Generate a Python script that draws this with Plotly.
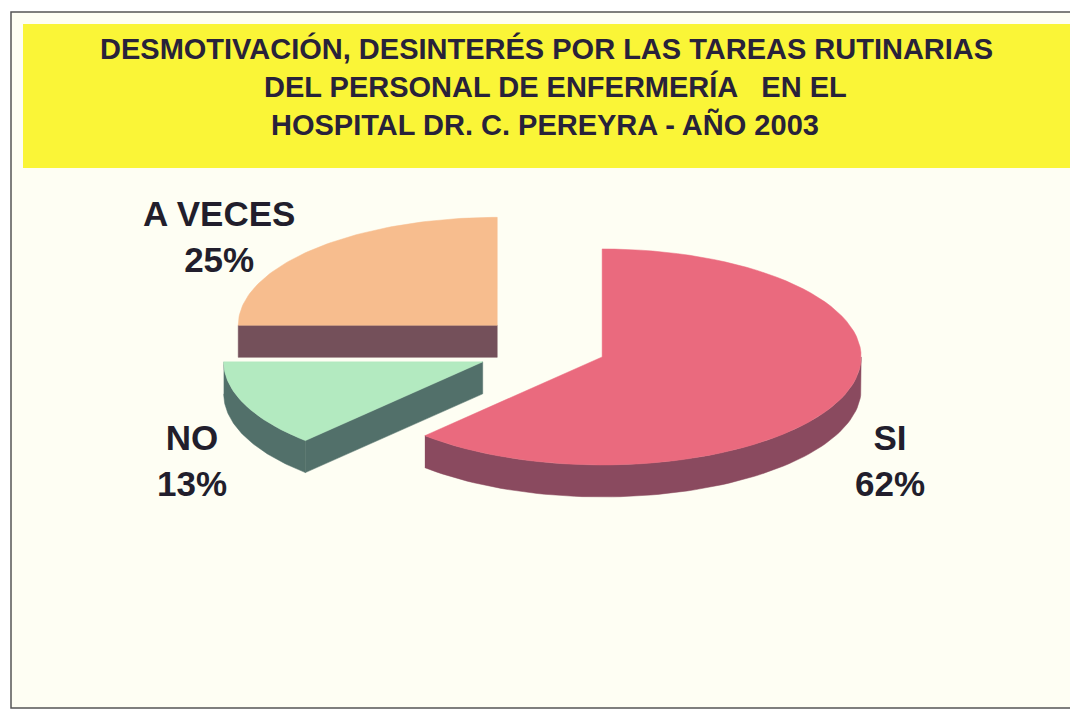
import numpy as np
import plotly.graph_objects as go

# ---- data ----
categories = ["A VECES", "NO", "SI"]
values = [25, 13, 62]

title_lines = [
    "DESMOTIVACIÓN, DESINTERÉS POR LAS TAREAS RUTINARIAS",
    "DEL PERSONAL DE ENFERMERÍA   EN EL",
    "HOSPITAL DR. C. PEREYRA - AÑO 2003",
]

# ---- style ----
top_colors = ["#f7bd8e", "#b3eac0", "#ea6a7e"]
side_colors = ["#74505a", "#52706a", "#8a4a5f"]
pulls = [0.31, 0.30, 0.20]
label_pos = [(219, 236), (192, 460), (890, 460)]

W, H = 1070, 711
CX, CY, RX, RY, T = 554, 349, 259, 108, 32
START = 90.0  # degrees, slices go counterclockwise

fig = go.Figure()


def arc(cx, cy, a_from, a_to, dy=0, n=80):
    a = np.radians(np.linspace(a_from, a_to, n))
    return list(cx + RX * np.cos(a)), list(cy - RY * np.sin(a) + dy)


total = float(sum(values))
ang = START
slices = []
for cat, v, p in zip(categories, values, pulls):
    a0 = ang
    a1 = ang + 360.0 * v / total
    ang = a1
    mid = np.radians((a0 + a1) / 2)
    cx = CX + p * RX * np.cos(mid)
    cy = CY - p * RY * np.sin(mid)
    slices.append((cat, v, a0, a1, cx, cy))

for i, (cat, v, a0, a1, cx, cy) in enumerate(slices):
    side = side_colors[i]
    # visible outer wall (front half: 180..360 deg)
    for lo_b, hi_b in [(180, 360), (540, 720)]:
        lo, hi = max(a0, lo_b), min(a1, hi_b)
        if hi > lo:
            xt, yt = arc(cx, cy, lo, hi)
            xb, yb = arc(cx, cy, hi, lo, dy=T)
            fig.add_trace(go.Scatter(x=xt + xb, y=yt + yb, fill="toself", mode="lines",
                                     line=dict(color=side, width=0.5), fillcolor=side,
                                     hoverinfo="skip", showlegend=False))
    # visible radial cut faces
    for edge, vis in [(a0, np.cos(np.radians(a0)) > 1e-6), (a1, np.cos(np.radians(a1)) < -1e-6)]:
        if vis:
            ex = cx + RX * np.cos(np.radians(edge))
            ey = cy - RY * np.sin(np.radians(edge))
            fig.add_trace(go.Scatter(x=[cx, ex, ex, cx, cx], y=[cy, ey, ey + T, cy + T, cy],
                                     fill="toself", mode="lines",
                                     line=dict(color=side, width=0.5), fillcolor=side,
                                     hoverinfo="skip", showlegend=False))
    # top face
    xa, ya = arc(cx, cy, a0, a1)
    fig.add_trace(go.Scatter(x=[cx] + xa + [cx], y=[cy] + ya + [cy], fill="toself", mode="lines",
                             line=dict(color=top_colors[i], width=0.5), fillcolor=top_colors[i],
                             name=cat, hoverinfo="text",
                             hovertext=f"{cat}: {round(100 * v / total)}%", showlegend=False))

# labels
for (cat, v, *_), (lx, ly) in zip(slices, label_pos):
    fig.add_annotation(x=lx, y=ly, xref="x", yref="y", showarrow=False,
                       text=f"<b>{cat}<br>{round(100 * v / total)}%</b>",
                       font=dict(family="Liberation Sans, Arial", size=35, color="#221e2c"),
                       align="center")

# title
for k, line in enumerate(title_lines):
    fig.add_annotation(x=[546, 555, 545][k], y=[48, 86, 124][k], xref="x", yref="y",
                       showarrow=False, text=f"<b>{line}</b>",
                       font=dict(family="Liberation Sans, Arial", size=29, color="#28223a"))

shapes = [
    dict(type="rect", xref="x", yref="y", x0=11, y0=12, x1=1075, y1=708,
         fillcolor="#fefef3", line=dict(color="#555555", width=1.5), layer="below"),
    dict(type="rect", xref="x", yref="y", x0=23, y0=24, x1=1075, y1=168,
         fillcolor="#faf537", line=dict(width=0), layer="below"),
]

fig.update_layout(
    width=W, height=H,
    margin=dict(l=0, r=0, t=0, b=0),
    paper_bgcolor="#ffffff", plot_bgcolor="rgba(0,0,0,0)",
    xaxis=dict(range=[0, W], visible=False, fixedrange=True),
    yaxis=dict(range=[H, 0], visible=False, fixedrange=True),
    shapes=shapes,
    showlegend=False,
)

fig.write_html("out.html", config={"displayModeBar": False},
               post_script="document.body.style.margin='0px';")
